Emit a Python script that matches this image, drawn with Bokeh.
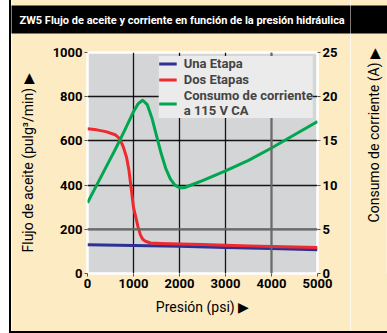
import math
from bokeh.plotting import figure
from bokeh.layouts import row
from bokeh.models import Range1d, LinearAxis, Legend, LegendItem, Span, FixedTicker
from bokeh.embed import file_html
from bokeh.resources import INLINE

title_text = "ZW5 Flujo de aceite y corriente en función de la presión hidráulica"
x_ticks = [0, 1000, 2000, 3000, 4000, 5000]
flow_ticks = [0, 200, 400, 600, 800, 1000]
amp_ticks = [0, 5, 10, 15, 20, 25]

# Una Etapa (flow, pulg3/min)
una_p = [0, 1000, 2000, 3000, 4000, 5000]
una_q = [130, 127, 123, 118, 113, 108]

# Dos Etapas (flow, pulg3/min)
dos_p = [0, 200, 400, 600, 700, 780, 850, 900, 950, 1000, 1050, 1100, 1150,
         1200, 1260, 1370, 1600, 2000, 2500, 3000, 3500, 4000, 4500, 5000]
dos_q = [655, 650, 642, 628, 610, 572, 525, 468, 385, 298, 255, 210, 175,
         155, 146, 138, 136, 134, 131, 128, 125, 122, 120, 118]

# Consumo de corriente a 115 V CA (A)
amp_p = [0, 200, 400, 600, 800, 1000, 1100, 1200, 1300, 1400, 1500, 1600,
         1700, 1800, 1900, 2000, 2100, 2200, 2500, 3000, 3500, 4000, 4500, 5000]
amp_a = [8.0, 10.0, 12.0, 14.0, 16.1, 18.3, 19.2, 19.6, 19.1, 17.6, 15.6, 13.6,
         11.9, 10.7, 10.0, 9.7, 9.7, 9.9, 10.5, 11.6, 12.8, 14.2, 15.7, 17.2]

FONT = "Roboto"
CREAM = "#fdebc4"


def style_title(t, offset):
    t.text_color = "white"
    t.background_fill_color = "black"
    t.text_font = FONT
    t.text_font_size = "11px"
    t.text_font_style = "bold"
    t.align = "left"
    t.vertical_align = "top"
    t.offset = offset
    t.padding = dict(left=8, right=60, top=8, bottom=7)
    t.standoff = 34


p = figure(width=339, height=343, x_range=Range1d(0, 5000), y_range=Range1d(0, 1000),
           output_backend="svg", toolbar_location=None,
           min_border_left=76, min_border_right=33, min_border_top=0, min_border_bottom=58)
p.extra_y_ranges = {"amps": Range1d(0, 25)}

p.border_fill_color = CREAM
p.background_fill_color = "#d4d5d7"
p.outline_line_color = "white"
p.outline_line_width = 2.5

p.title.text = title_text
style_title(p.title, -76)

p.xgrid.ticker = FixedTicker(ticks=x_ticks)
p.ygrid.ticker = FixedTicker(ticks=flow_ticks)
p.grid.grid_line_color = "black"
p.grid.grid_line_width = 1.3
p.grid.grid_line_alpha = 0.9

p.add_layout(Span(location=x_ticks[4], dimension="height", line_color="#6a6a6a", line_width=2))
p.add_layout(Span(location=flow_ticks[1], dimension="width", line_color="#6a6a6a", line_width=2))

p.xaxis.ticker = FixedTicker(ticks=x_ticks)
p.yaxis.ticker = FixedTicker(ticks=flow_ticks)
p.xaxis.axis_label = "Presión (psi) ▶"
p.yaxis.axis_label = "Flujo de aceite (pulg³/min) ▶"

ax2 = LinearAxis(y_range_name="amps", ticker=FixedTicker(ticks=amp_ticks))
p.add_layout(ax2, "right")

for ax in [p.xaxis[0], p.yaxis[0], ax2]:
    ax.axis_line_color = None
    ax.major_tick_line_color = "#555555"
    ax.major_tick_out = 3
    ax.major_tick_in = 0
    ax.minor_tick_line_color = None
    ax.major_label_text_font = FONT
    ax.major_label_text_font_style = "bold"
    ax.major_label_text_font_size = "13px"
    ax.major_label_text_color = "black"
    ax.major_label_standoff = 2
    ax.axis_label_text_font = FONT
    ax.axis_label_text_font_style = "normal"
    ax.axis_label_text_font_size = "14px"
    ax.axis_label_text_color = "black"

p.xaxis.axis_label_standoff = 8
p.yaxis.axis_label_standoff = 14

r1 = p.line(una_p, una_q, line_color="#2e3192", line_width=3)
r2 = p.line(dos_p, dos_q, line_color="#ee2a2e", line_width=3, line_join="round")
r3 = p.line(amp_p, amp_a, line_color="#00a650", line_width=3, line_join="round",
            y_range_name="amps")

legend = Legend(items=[LegendItem(label="Una Etapa", renderers=[r1]),
                       LegendItem(label="Dos Etapas", renderers=[r2]),
                       LegendItem(label="Consumo de corriente\na 115 V CA", renderers=[r3])],
                location="top_right")
legend.background_fill_color = "#ebebeb"
legend.background_fill_alpha = 1
legend.border_line_color = None
legend.label_text_font = FONT
legend.label_text_font_style = "bold"
legend.label_text_font_size = "13px"
legend.label_height = 13
legend.glyph_height = 13
legend.glyph_width = 18
legend.label_standoff = 7
legend.spacing = 1
legend.padding = 7
legend.margin = 4
p.add_layout(legend)

# narrow companion panel carrying the right-hand axis title (reads upwards)
p2 = figure(width=37, height=343, x_range=Range1d(0, 1), y_range=Range1d(0, 25),
            output_backend="svg", toolbar_location=None,
            min_border_left=36, min_border_right=0, min_border_top=0, min_border_bottom=58)
p2.title.text = " "
style_title(p2.title, -36)
p2.border_fill_color = CREAM
p2.background_fill_color = CREAM
p2.outline_line_color = None
p2.grid.grid_line_color = None
p2.xaxis.visible = False
p2.yaxis.ticker = FixedTicker(ticks=[])
p2.yaxis.axis_line_color = None
p2.yaxis.major_tick_line_color = None
p2.yaxis.minor_tick_line_color = None
p2.yaxis.major_tick_out = 0
p2.yaxis.axis_label = "\u00a0" * 16 + "Consumo de corriente (A) ▶"
p2.yaxis.axis_label_text_font = FONT
p2.yaxis.axis_label_text_font_style = "normal"
p2.yaxis.axis_label_text_font_size = "14px"
p2.yaxis.axis_label_text_color = "black"
p2.yaxis.axis_label_standoff = 5

layout = row(p, p2, spacing=0)
layout.styles = {"margin-left": "9px", "margin-top": "-12px",
                 "border-left": "2px solid black", "border-bottom": "2px solid black"}

open("out.html", "w").write(file_html(layout, INLINE))
